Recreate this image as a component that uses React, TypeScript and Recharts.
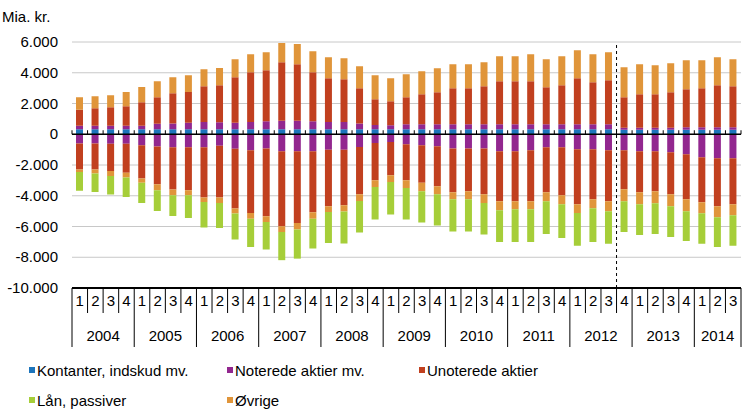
import React from 'react';
import { BarChart, Bar, XAxis, YAxis, CartesianGrid, ReferenceLine } from 'recharts';

const years = ['2004', '2005', '2006', '2007', '2008', '2009', '2010', '2011', '2012', '2013', '2014'];
const quartersPerYear = [4, 4, 4, 4, 4, 4, 4, 4, 4, 4, 3];
const quarterLabels = ['1', '2', '3', '4'];
const yTicks = [-10000, -8000, -6000, -4000, -2000, 0, 2000, 4000, 6000];

const kontanter = [330, 330, 330, 330, 330, 330, 330, 330, 330, 330, 330, 330, 330, 330, 330, 330, 330, 330, 330, 330, 330, 330, 330, 330, 330, 330, 330, 330, 330, 330, 330, 330, 330, 330, 330, 290, 290, 290, 290, 290, 290, 290, 290];
const noteredePos = [220, 220, 220, 220, 230, 360, 370, 420, 470, 450, 420, 470, 520, 540, 540, 520, 470, 470, 370, 270, 250, 320, 320, 320, 320, 320, 320, 320, 320, 320, 320, 320, 320, 320, 320, 140, 140, 140, 140, 160, 160, 160, 160];
const noteredeNeg = [-600, -600, -620, -620, -715, -800, -850, -850, -850, -750, -950, -1040, -930, -1100, -1100, -1100, -1000, -1000, -830, -570, -500, -650, -720, -780, -930, -930, -930, -1100, -1100, -1040, -850, -850, -980, -980, -1040, -1040, -1100, -1100, -1170, -1300, -1500, -1560, -1560];
const unoteredePos = [1050, 1140, 1200, 1270, 1520, 1710, 1970, 2000, 2320, 2410, 2960, 3230, 3310, 3810, 3680, 3180, 2840, 2780, 2290, 1680, 1570, 1760, 1950, 2080, 2340, 2340, 2470, 2800, 2800, 2800, 2410, 2540, 2990, 2730, 2860, 1980, 2170, 2170, 2300, 2480, 2540, 2740, 2670];
const unoteredeNeg = [-1700, -1700, -1770, -1890, -2165, -2450, -2750, -2790, -3270, -3370, -3880, -4080, -4400, -4880, -4670, -3970, -3680, -3620, -3070, -2420, -2170, -2340, -2440, -2600, -2840, -2780, -2970, -3260, -3260, -3320, -2920, -3120, -3570, -3250, -3320, -2540, -2670, -2610, -2730, -2930, -2920, -3120, -2990];
const ovrigePos = [800, 780, 780, 930, 1000, 1050, 1030, 1090, 1110, 1120, 1170, 1180, 1170, 1260, 1320, 1370, 1370, 1360, 1430, 1560, 1490, 1490, 1500, 1560, 1560, 1560, 1560, 1620, 1620, 1750, 1820, 1880, 1820, 1820, 1820, 1950, 1950, 1890, 1890, 1880, 1820, 1820, 1760];
const ovrigeNeg = [-150, -260, -320, -310, -280, -390, -370, -330, -280, -350, -330, -370, -370, -370, -430, -430, -370, -410, -440, -440, -430, -500, -550, -520, -460, -520, -570, -580, -520, -520, -590, -580, -570, -580, -650, -780, -780, -780, -780, -780, -720, -720, -720];
const laan = [-1230, -1190, -1210, -1260, -1310, -1350, -1340, -1470, -1670, -1620, -1690, -1840, -1800, -1840, -1890, -1930, -2020, -2080, -2050, -2120, -2120, -2060, -2030, -2040, -2100, -2100, -2050, -2060, -2120, -2120, -2120, -2190, -2140, -2190, -2120, -1990, -2000, -1990, -2000, -1930, -1990, -1930, -1990];

const COLORS = {
  kontanter: '#1C75BC',
  noterede: '#92278F',
  unoterede: '#C1401F',
  laan: '#A6CE39',
  ovrige: '#E0953A',
};

const legendItems = [
  { name: 'Kontanter, indskud mv.', color: COLORS.kontanter, left: 29, top: 370 },
  { name: 'Noterede aktier mv.', color: COLORS.noterede, left: 227, top: 370 },
  { name: 'Unoterede aktier', color: COLORS.unoterede, left: 419, top: 370 },
  { name: 'Lån, passiver', color: COLORS.laan, left: 29, top: 400 },
  { name: 'Øvrige', color: COLORS.ovrige, left: 227, top: 400 },
];

const categories: { key: string; year: string; q: string; nq: number }[] = [];
years.forEach((y, yi) => {
  quarterLabels.slice(0, quartersPerYear[yi]).forEach((q) => {
    categories.push({ key: `${y}-${q}`, year: y, q, nq: quartersPerYear[yi] });
  });
});

const data = categories.map((c, i) => ({
  cat: c.key,
  kontanter: kontanter[i],
  noteredePos: noteredePos[i],
  unoteredePos: unoteredePos[i],
  ovrigePos: ovrigePos[i],
  noteredeNeg: noteredeNeg[i],
  unoteredeNeg: unoteredeNeg[i],
  ovrigeNeg: ovrigeNeg[i],
  laan: laan[i],
}));

const FONT = '"Liberation Sans", Arial, sans-serif';

const fmt = (v: number) => {
  const s = String(Math.abs(v)).replace(/\B(?=(\d{3})+(?!\d))/g, '.');
  return v < 0 ? '-' + s : s;
};

const YTick = (props: any) => {
  const { y, payload } = props;
  return (
    <text x={58} y={y} dy={5} textAnchor="end" fontSize={15} fontFamily={FONT} fill="#000">
      {fmt(payload.value)}
    </text>
  );
};

const XTick = (props: any) => {
  const { x, y, index, width } = props;
  const band = width / categories.length;
  const c = categories[index];
  if (!c) return null;
  const left = x - band / 2;
  const isFirst = c.q === '1';
  const isLast = index === categories.length - 1;
  return (
    <g>
      <line x1={left} y1={y} x2={left} y2={y + (isFirst ? 59 : 25)} stroke="#000" strokeWidth={1} />
      {isLast && <line x1={x + band / 2} y1={y} x2={x + band / 2} y2={y + 59} stroke="#000" strokeWidth={1} />}
      <text x={x} y={y + 13} dy={5} textAnchor="middle" fontSize={15} fontFamily={FONT} fill="#000">
        {c.q}
      </text>
      {isFirst && (
        <text x={left + (band * c.nq) / 2} y={y + 48} dy={5} textAnchor="middle" fontSize={15} fontFamily={FONT} fill="#000">
          {c.year}
        </text>
      )}
    </g>
  );
};

const ZeroLine = (props: any) => {
  const { x1, y1, x2 } = props;
  const n = categories.length;
  const step = (x2 - x1) / n;
  const ticks = [];
  for (let i = 0; i <= n; i++) {
    const tx = x1 + i * step;
    ticks.push(<line key={i} x1={tx} y1={y1 - 4} x2={tx} y2={y1} stroke="#000" strokeWidth={1} />);
  }
  return (
    <g>
      <line x1={x1} y1={y1} x2={x2} y2={y1} stroke="#000" strokeWidth={1.5} />
      {ticks}
    </g>
  );
};

export default function App() {
  return (
    <div style={{ position: 'absolute', left: 0, top: 0, width: 750, height: 419, background: '#fff', fontFamily: FONT }}>
      <div style={{ position: 'absolute', left: 2, top: 8, fontSize: 15, lineHeight: '18px', color: '#000' }}>Mia. kr.</div>
      <BarChart
        width={750}
        height={419}
        data={data}
        stackOffset="sign"
        barSize={7}
        margin={{ top: 42, right: 9, bottom: 71, left: 0 }}
      >
        <CartesianGrid vertical={false} stroke="#c8c8c8" strokeWidth={1} />
        <YAxis
          width={72}
          domain={[-10000, 6000]}
          ticks={yTicks}
          allowDataOverflow
          axisLine={false}
          tickLine={false}
          tick={<YTick />}
          interval={0}
        />
        <XAxis
          dataKey="cat"
          height={60}
          interval={0}
          tickLine={false}
          tickSize={0}
          tickMargin={0}
          axisLine={{ stroke: '#000', strokeWidth: 2 }}
          tick={<XTick />}
        />
        <Bar dataKey="kontanter" stackId="a" fill={COLORS.kontanter} isAnimationActive={false} />
        <Bar dataKey="noteredePos" stackId="a" fill={COLORS.noterede} isAnimationActive={false} />
        <Bar dataKey="unoteredePos" stackId="a" fill={COLORS.unoterede} isAnimationActive={false} />
        <Bar dataKey="ovrigePos" stackId="a" fill={COLORS.ovrige} isAnimationActive={false} />
        <Bar dataKey="noteredeNeg" stackId="a" fill={COLORS.noterede} isAnimationActive={false} />
        <Bar dataKey="unoteredeNeg" stackId="a" fill={COLORS.unoterede} isAnimationActive={false} />
        <Bar dataKey="ovrigeNeg" stackId="a" fill={COLORS.ovrige} isAnimationActive={false} />
        <Bar dataKey="laan" stackId="a" fill={COLORS.laan} isAnimationActive={false} />
        <ReferenceLine y={0} shape={<ZeroLine />} />
        <ReferenceLine x={categories[35].key} position="start" stroke="#000" strokeWidth={1} strokeDasharray="3 3" />
      </BarChart>
      {legendItems.map((it) => (
        <div key={it.name} style={{ position: 'absolute', left: it.left, top: it.top - 9, height: 18, display: 'flex', alignItems: 'center', fontSize: 15, color: '#000', whiteSpace: 'nowrap' }}>
          <span style={{ display: 'inline-block', width: 6, height: 6, background: it.color, marginRight: 2 }} />
          <span>{it.name}</span>
        </div>
      ))}
    </div>
  );
}
